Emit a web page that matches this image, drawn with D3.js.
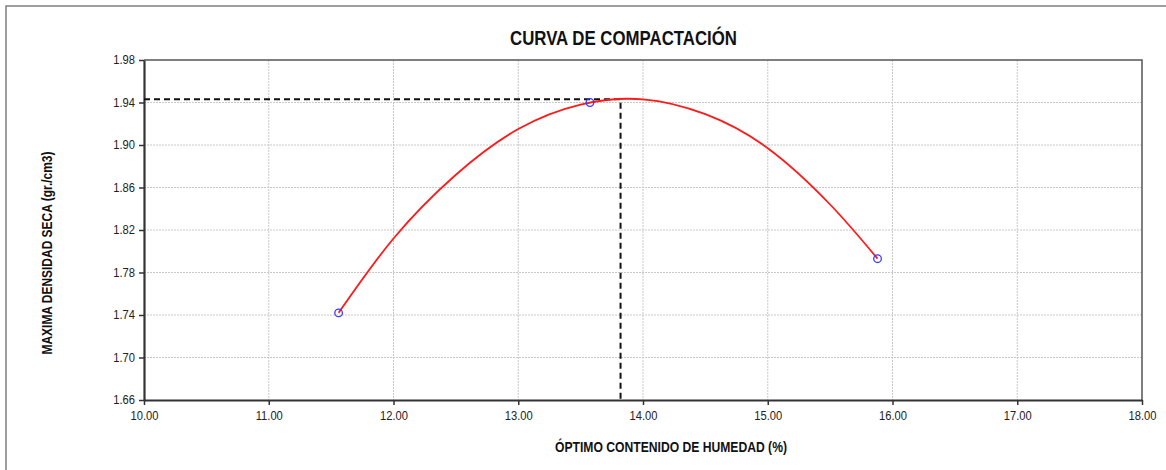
<!DOCTYPE html>
<html>
<head>
<meta charset="utf-8">
<script src="https://cdn.jsdelivr.net/npm/d3@7"></script>
<style>
  html, body { margin: 0; padding: 0; background: #fff; }
  svg { display: block; }
</style>
</head>
<body>
<svg id="chart" width="1166" height="470"></svg>
<script>
// ---- data ----
const pointsX = [11.56, 13.575, 15.88];          // humedad (%)
const pointsY = [1.742, 1.940, 1.793];           // densidad seca (gr/cm3)
const curveX  = [11.56, 12.00, 12.50, 13.00, 13.50, 14.00, 14.50, 15.00, 15.50, 15.88];
const curveY  = [1.742, 1.812, 1.872, 1.915, 1.938, 1.943, 1.929, 1.897, 1.844, 1.793];
const optimo  = [13.82];   // óptimo contenido de humedad
const maxDens = [1.943];   // máxima densidad seca
const xTicks  = [10, 11, 12, 13, 14, 15, 16, 17, 18];
const yTicks  = [1.66, 1.70, 1.74, 1.78, 1.82, 1.86, 1.90, 1.94, 1.98];
const titleText  = "CURVA DE COMPACTACIÓN";
const xTitleText = "ÓPTIMO CONTENIDO DE HUMEDAD (%)";
const yTitleText = "MAXIMA DENSIDAD SECA (gr./cm3)";

// ---- layout ----
const svg = d3.select("#chart");
const L = 144, R = 1142, T = 60, B = 400;
const x = d3.scaleLinear().domain([10, 18]).range([L, R]);
const y = d3.scaleLinear().domain([1.66, 1.98]).range([B, T]);
const sans = "'Liberation Sans', Arial, sans-serif";

// outer frame
svg.append("rect").attr("x", 6).attr("y", 6).attr("width", 1180).attr("height", 490)
  .attr("fill", "none").attr("stroke", "#7f7f7f").attr("stroke-width", 1.5);

// title (condensed to mimic Arial Narrow)
svg.append("text").attr("x", 623.5).attr("y", 45).attr("text-anchor", "middle")
  .attr("font-family", sans).attr("font-weight", "bold").attr("font-size", 20)
  .attr("textLength", 227).attr("lengthAdjust", "spacingAndGlyphs")
  .attr("fill", "#111").text(titleText);

// grid
const grid = svg.append("g");
grid.selectAll("line.v").data(xTicks.slice(1, -1)).join("line")
  .attr("x1", d => x(d)).attr("x2", d => x(d)).attr("y1", T).attr("y2", B)
  .attr("stroke", "#c8c8c8").attr("stroke-width", 1).attr("stroke-dasharray", "2,1");
grid.selectAll("line.h").data(yTicks.slice(1, -1)).join("line")
  .attr("x1", L).attr("x2", R).attr("y1", d => y(d)).attr("y2", d => y(d))
  .attr("stroke", "#c8c8c8").attr("stroke-width", 1).attr("stroke-dasharray", "2,1");

// top/right border of plot
svg.append("path").attr("d", `M${L},${T}H${R}V${B}`)
  .attr("fill", "none").attr("stroke", "#555").attr("stroke-width", 1.5);

// axes
const xAxis = d3.axisBottom(x).tickValues(xTicks).tickFormat(d3.format(".2f")).tickSizeInner(5).tickSizeOuter(0).tickPadding(4);
const yAxis = d3.axisLeft(y).tickValues(yTicks).tickFormat(d3.format(".2f")).tickSizeInner(5).tickSizeOuter(0).tickPadding(4);
const gx = svg.append("g").attr("transform", `translate(0,${B})`).call(xAxis);
const gy = svg.append("g").attr("transform", `translate(${L},0)`).call(yAxis);
[gx, gy].forEach(g => {
  g.select(".domain").attr("stroke", "#333").attr("stroke-width", 2.2);
  g.selectAll(".tick line").attr("stroke", "#333").attr("stroke-width", 1.5);
  g.selectAll(".tick text").attr("font-family", sans).attr("font-size", 12).attr("fill", "#222")
    .attr("textLength", function () { return this.getComputedTextLength() * 0.93; })
    .attr("lengthAdjust", "spacingAndGlyphs");
});
gx.selectAll(".tick text").attr("dy", "0.95em");

// axis titles
svg.append("text").attr("x", 671).attr("y", 452).attr("text-anchor", "middle")
  .attr("font-family", sans).attr("font-weight", "bold").attr("font-size", 14)
  .attr("textLength", 232).attr("lengthAdjust", "spacingAndGlyphs")
  .attr("fill", "#111").text(xTitleText);
svg.append("text").attr("transform", `translate(52,253) rotate(-90)`).attr("text-anchor", "middle")
  .attr("font-family", sans).attr("font-weight", "bold").attr("font-size", 14)
  .attr("textLength", 203).attr("lengthAdjust", "spacingAndGlyphs")
  .attr("fill", "#111").text(yTitleText);

// dashed optimum lines
svg.append("path")
  .attr("d", `M${x(10)},${y(maxDens[0])}H${x(optimo[0])}V${y(1.66)}`)
  .attr("fill", "none").attr("stroke", "#111").attr("stroke-width", 2).attr("stroke-dasharray", "6,4");

// fitted curve
const curveData = curveX.map((v, i) => [v, curveY[i]]);
svg.append("path").datum(curveData)
  .attr("d", d3.line().x(d => x(d[0])).y(d => y(d[1])).curve(d3.curveNatural))
  .attr("fill", "none").attr("stroke", "#ff1a1a").attr("stroke-width", 1.8);

// points
const pts = pointsX.map((v, i) => [v, pointsY[i]]);
svg.selectAll("circle.pt").data(pts).join("circle")
  .attr("cx", d => x(d[0])).attr("cy", d => y(d[1])).attr("r", 3.8)
  .attr("fill", "none").attr("stroke", "#3a3aff").attr("stroke-width", 1.3);
</script>
</body>
</html>
